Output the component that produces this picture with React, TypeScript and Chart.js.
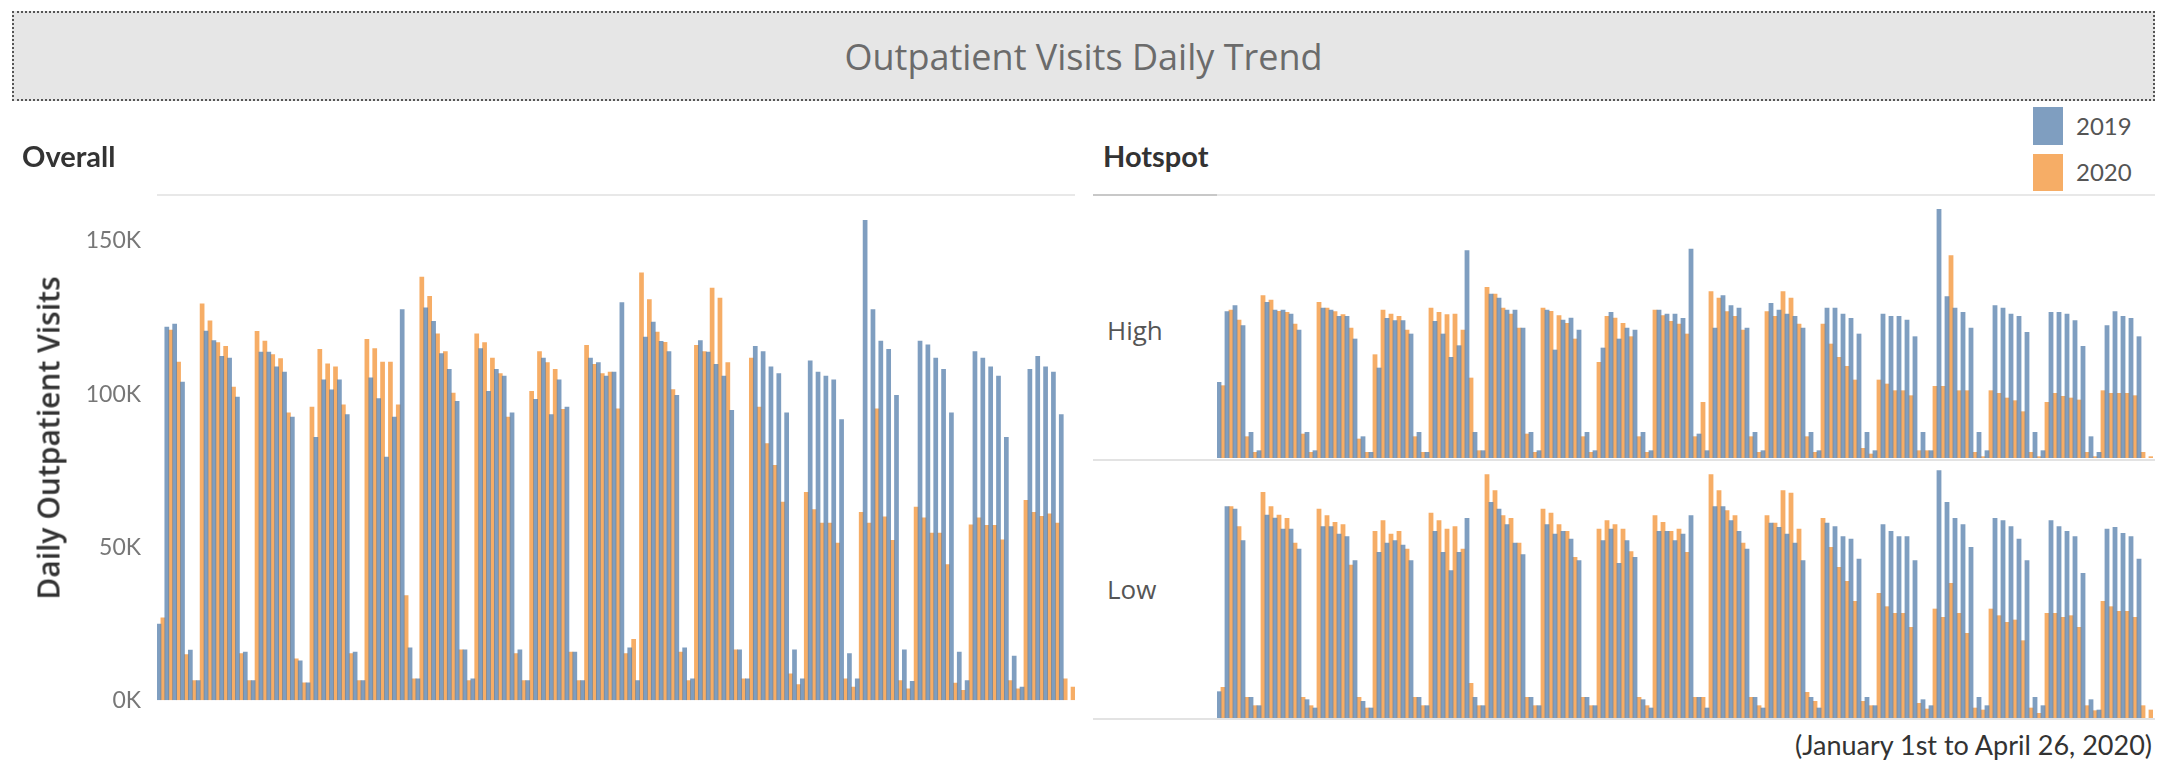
import React, { useEffect, useRef } from "react";
import { Chart, registerables } from "chart.js";
Chart.register(...registerables);

// 117 days: Jan 1 .. Apr 26, 2020
const dayLabels: string[] = Array.from({ length: 117 }, (_, i) => {
  const d = new Date(2020, 0, 1 + i);
  return d.toLocaleDateString("en-US", { month: "short", day: "numeric" });
});

// Overall daily outpatient visits (thousands)
const overall2019: (number | null)[] = [
  25, 122, 123, 104, 16.5, 6.5, 120.7, 117.6, 112.4, 111.9, 99.1, 15.8, 6.5, 113.8, 113.8, 109, 107.3, 92.6, 13, 5.8,
  86, 104.8, 101.5, 104.8, 93.4, 15.8, 6.5, 105.4, 98.6, 79.5, 92.6, 127.7, 17.2, 7.1, 128.3, 123.9, 113.3, 108.2, 97.7, 16.6,
  7.1, 115, 101, 108.2, 106, 94, 16.6, 6.5, 98.4, 111.9, 93.4, 104.8, 95.9, 15.8, 6.5, 111.9, 110.4, 106, 107.3, 130,
  17.2, 6.5, 118.7, 123.6, 117.3, 114, 99.7, 17.2, 7.1, 117.6, 113.8, 109.8, 106, 94.8, 16.6, 7.1, 115.7, 114, 109, 106.8,
  94, 16.6, 7.1, 111, 107.3, 106, 104.8, 91.8, 15.3, 7.1, 156.9, 127.7, 117.4, 114.7, 99.7, 16.6, 6.3, 117.4, 116.2, 111.9,
  108.2, 94, 15.8, 6.5, 114, 111.9, 109, 106, 86, 14.5, 4.4, 108.2, 112.4, 109, 107.3, 93.4, null,
];
const overall2020: (number | null)[] = [
  27, 121, 110.6, 15, 6.5, 129.6, 124, 116.9, 115.7, 102.4, 15.3, 6.5, 120.6, 117.4, 113, 111.7, 94, 13.6, 5.8, 95.9,
  114.7, 110, 109, 96.6, 15.3, 6.5, 118, 115, 110.6, 110.6, 96.6, 34.3, 7.1, 138.3, 132, 119.8, 114, 100.4, 16.6, 6.5,
  119.8, 116.9, 111.9, 106.8, 92.6, 15.3, 6.5, 101, 114, 110.4, 108.2, 95.1, 15.8, 6.5, 116, 109.8, 106.8, 107.3, 95.3, 15.3,
  20, 139.7, 131, 120.4, 117, 101.6, 15.8, 6.5, 116, 114, 134.7, 131.5, 110.4, 16.6, 7.1, 111.9, 95.9, 83.9, 76.8, 64.8,
  8.7, 5.2, 68, 62.4, 58, 58, 51.4, 7.1, 4.4, 61.5, 58, 95.3, 60, 52.3, 6.5, 3.8, 63.2, 59.7, 54.7, 54.7,
  44.4, 5.7, 3.3, 57.4, 59.7, 57.2, 57.2, 52.5, 6.5, 3.8, 65.4, 61.5, 60.2, 61, 58, 7.1, 4.4,
];

// Hotspot: High (thousands)
const high2019: (number | null)[] = [
  22.8, 44, 45.8, 39.8, 7.8, 2.3, 46.8, 44.5, 44.5, 43.3, 38.5, 7.8, 2.3, 45.1, 44.5, 42.6, 42.6, 35.8, 6.5, 1.8,
  27.1, 42, 41.3, 41.3, 37.3, 7.8, 1.8, 41.1, 37.3, 30.3, 33.8, 62.3, 7.8, 2.3, 49.3, 48.1, 44.5, 44.5, 39.1, 7.8,
  2.3, 44.5, 32.5, 41.5, 42.1, 38.5, 7.8, 2.3, 33.1, 43.8, 35.8, 39.1, 38.5, 7.8, 2.3, 44.5, 43.3, 43.3, 42, 62.8,
  7.3, 2.3, 39.1, 48.8, 45.8, 45.1, 39.1, 7.8, 2.3, 46.5, 44.5, 43.3, 42.6, 39.1, 7.8, 2.3, 45.1, 45.1, 43.3, 42,
  37.3, 7.8, 2.3, 43.3, 42.6, 42.6, 41.5, 36.5, 7.8, 2.3, 74.7, 48.5, 45.1, 43.8, 39.1, 7.8, 2.3, 45.8, 45.1, 43.3,
  42.6, 37.8, 7.8, 2.3, 43.8, 43.8, 43.3, 41.3, 33.6, 6.5, 1.8, 39.8, 44, 42.6, 42, 36.5, null,
];
const high2020: (number | null)[] = [
  21.8, 44.5, 41.5, 6.5, 1.8, 48.8, 47.5, 44.1, 43.8, 40.3, 7.3, 1.8, 46.8, 45.1, 44, 43.1, 39.1, 5.8, 1.8, 31.1,
  44.5, 43.3, 42.6, 38.5, 6.5, 1.8, 45.1, 43.8, 43.1, 43.3, 38.5, 24.1, 2.3, 51.3, 49.3, 45.1, 43.3, 39.1, 7.3, 1.8,
  45.1, 44.1, 42.8, 40.5, 35.8, 6.5, 1.8, 28.8, 42.6, 42.1, 40.5, 36.5, 6.5, 1.8, 44.5, 42.8, 41.1, 40.3, 37.3, 6.5,
  16.8, 50, 48.1, 44, 42.6, 38.5, 6.5, 1.8, 44, 42.6, 50, 48.1, 40.3, 6.5, 1.8, 40.3, 34.3, 30.3, 27.6, 23.5,
  3, 1.3, 23.5, 22.3, 20.3, 20.3, 18.8, 2.3, 2.3, 21.6, 21.6, 60.8, 20.3, 20.3, 1.8, 0.5, 20.3, 19.5, 18.1, 17.3,
  14, 1.8, 0.5, 16.8, 19.5, 18.6, 18.1, 17.5, 1.8, 0.5, 20.3, 19.5, 19.5, 19.5, 18.8, 1.8, 0.5,
];

// Hotspot: Low (thousands)
const low2019: (number | null)[] = [
  8, 63.5, 62.8, 53.3, 6.3, 3.8, 61, 60.1, 56.8, 56.8, 50.8, 5.6, 3.1, 57.5, 57.5, 55.3, 54.5, 47.3, 5.1, 3.1,
  49.8, 52.6, 53.3, 52, 47.3, 6.3, 3.8, 56.1, 49.8, 44.3, 49.8, 60, 6.3, 3.8, 64.8, 62.8, 58.1, 52.6, 49.1, 6.3,
  3.8, 58.1, 55.3, 56.1, 53.8, 47.3, 6.3, 3.8, 53.3, 56.8, 46.5, 53.3, 48.3, 5.6, 3.1, 56.1, 56.1, 53.3, 55.3, 60.8,
  6.3, 3.1, 63.5, 63.5, 59.3, 56.1, 50.8, 6.3, 3.1, 58.6, 57.3, 55.3, 52.6, 47.3, 6.3, 3.1, 58.6, 57.5, 54.5, 53.8,
  47.8, 6.3, 3.8, 58.1, 56.1, 54.5, 54.5, 47.3, 5.6, 3.8, 74.3, 64.8, 60, 58.1, 51.3, 6.3, 3.8, 60, 59.3, 57.5,
  53.8, 47.3, 6.3, 3.8, 59.3, 57.5, 56.1, 54.5, 43.5, 5.6, 2.5, 56.8, 57.3, 55.5, 54.5, 47.8, null,
];
const low2020: (number | null)[] = [
  9.3, 63.5, 57.5, 6.3, 3.8, 67.8, 63.5, 61, 60, 52.6, 6.3, 3.8, 62.8, 60.8, 58.8, 58.1, 46, 6.3, 3.1, 56.1,
  59.3, 55.3, 56.1, 50.8, 6.3, 3.8, 61.6, 59.3, 56.8, 57.5, 50.8, 10.5, 3.8, 73.1, 68.3, 60.8, 60, 52.6, 6.3, 3.8,
  62.8, 61.6, 58.1, 56.1, 48.3, 6.3, 3.8, 56.8, 59.3, 58.1, 56.8, 50, 6.3, 3.8, 60.8, 58.8, 56.1, 56.8, 49.8, 6.3,
  6.3, 73.1, 68.3, 62.3, 60.8, 52.6, 6.3, 3.8, 60.8, 58.6, 68.3, 67.6, 56.8, 7.8, 5.1, 60, 51.3, 45.3, 41.1, 35.1,
  5.1, 3.8, 37.5, 33.5, 31.5, 31.5, 27.3, 4.5, 2.8, 32.8, 30.3, 40.5, 31.5, 25.5, 3.1, 2.5, 32.8, 30.8, 28.8, 29.5,
  23.3, 3.1, 1.5, 31.5, 31.5, 30.3, 30.8, 27.3, 3.8, 2.3, 35.1, 33.5, 32.1, 32.1, 30.3, 3.8, 2.5,
];

const overallTicks = [0, 50, 100, 150];
const seriesNames = ["2019", "2020"];

const BLUE = "rgba(78,121,167,0.72)";
const ORANGE = "rgba(242,142,43,0.72)";
const FONT = "Lato, 'Open Sans', sans-serif";
const WIDE = "'Open Sans', Lato, sans-serif";

type PanelProps = {
  s2019: (number | null)[];
  s2020: (number | null)[];
  yMax: number;
  left: number;
  top: number;
  width: number;
  height: number;
  withAxis?: boolean;
  areaTop?: number;
  areaBottom?: number;
};

function BarPanel({ s2019, s2020, yMax, left, top, width, height, withAxis, areaTop = 0, areaBottom = 0 }: PanelProps) {
  const ref = useRef<HTMLCanvasElement>(null);
  useEffect(() => {
    const yScale: any = withAxis
      ? {
          display: true,
          min: 0,
          max: yMax,
          grid: { display: false, drawTicks: false },
          border: { display: false },
          afterFit: (s: any) => {
            s.width = 157;
          },
          afterBuildTicks: (s: any) => {
            s.ticks = overallTicks.map((v) => ({ value: v }));
          },
          ticks: {
            callback: (v: any) => `${v}K`,
            color: "#777",
            padding: 16,
            font: { size: 23, family: FONT },
          },
        }
      : { display: false, min: 0, max: yMax };
    const pad = { top: 0, bottom: 0, right: withAxis ? 10 : 0, left: 0 };
    const chart = new Chart(ref.current!, {
      type: "bar",
      data: {
        labels: dayLabels,
        datasets: [
          { label: seriesNames[0], data: s2019, backgroundColor: BLUE, borderWidth: 0, categoryPercentage: 1, barPercentage: 1.2 },
          { label: seriesNames[1], data: s2020, backgroundColor: ORANGE, borderWidth: 0, categoryPercentage: 1, barPercentage: 1.2 },
        ],
      },
      options: {
        animation: false,
        responsive: false,
        maintainAspectRatio: false,
        layout: { padding: { ...pad } },
        plugins: { legend: { display: false }, tooltip: { enabled: false } },
        scales: {
          x: { display: false, grid: { display: false } },
          y: yScale,
        },
      },
    });
    if (withAxis) {
      // nudge the layout padding until the value scale spans the pane
      for (let k = 0; k < 8; k++) {
        const ys: any = chart.scales.y;
        const t = ys.getPixelForValue(yMax);
        const b = ys.getPixelForValue(0);
        const dt = areaTop - t;
        const db = b - areaBottom;
        if (Math.abs(dt) < 0.5 && Math.abs(db) < 0.5) break;
        pad.top = Math.max(0, pad.top + dt);
        pad.bottom = Math.max(0, pad.bottom + db);
        (chart.options as any).layout = { padding: { ...pad } };
        chart.update();
      }
    }
    return () => chart.destroy();
  }, []);
  return (
    <canvas
      ref={ref}
      width={width}
      height={height}
      style={{ position: "absolute", left, top, width, height }}
    />
  );
}

export default function App() {
  const abs = (s: React.CSSProperties): React.CSSProperties => ({ position: "absolute", ...s });
  return (
    <div style={{ position: "absolute", left: 0, top: 0, width: 2170, height: 761, background: "#fff", fontFamily: FONT, overflow: "hidden" }}>
      {/* Title box */}
      <div
        style={abs({
          left: 12, top: 11, width: 2139, height: 86,
          background: "#e6e6e6", border: "2px dotted #555",
          display: "flex", alignItems: "center", justifyContent: "center",
          color: "#6b6b6b", fontSize: 36, fontFamily: WIDE,
        })}
      >
        Outpatient Visits Daily Trend
      </div>

      {/* Overall chart: value scale spans 200..700 px on the page */}
      <BarPanel
        s2019={overall2019}
        s2020={overall2020}
        yMax={163.4}
        left={0}
        top={150}
        width={1085}
        height={580}
        withAxis
        areaTop={50}
        areaBottom={550}
      />

      {/* Headers */}
      <div style={abs({ left: 22, top: 137, fontSize: 29, fontWeight: 700, color: "#333", lineHeight: "38px" })}>Overall</div>
      <div style={abs({ left: 1103, top: 137, fontSize: 29, fontWeight: 700, color: "#333", lineHeight: "38px" })}>Hotspot</div>
      <div style={abs({ left: 157, top: 194, width: 918, height: 2, background: "#e8e8e8" })} />
      <div style={abs({ left: 1093, top: 194, width: 1062, height: 2, background: "#e8e8e8" })} />
      <div style={abs({ left: 1093, top: 194, width: 124, height: 2, background: "#c8c8c8" })} />

      {/* Legend */}
      <div style={abs({ left: 2033, top: 107, width: 30, height: 38, background: BLUE })} />
      <div style={abs({ left: 2076, top: 112, fontSize: 24, color: "#555", lineHeight: "28px" })}>{seriesNames[0]}</div>
      <div style={abs({ left: 2033, top: 154, width: 30, height: 37, background: ORANGE })} />
      <div style={abs({ left: 2076, top: 158, fontSize: 24, color: "#555", lineHeight: "28px" })}>{seriesNames[1]}</div>

      {/* Y axis title */}
      <div
        style={abs({
          left: 48, top: 438, transform: "translate(-50%,-50%) rotate(-90deg)",
          whiteSpace: "nowrap", fontSize: 30, fontWeight: 600, color: "#333", fontFamily: WIDE,
        })}
      >
        Daily Outpatient Visits
      </div>

      {/* Hotspot rows */}
      <div style={abs({ left: 1107, top: 314, fontSize: 26, color: "#555", lineHeight: "32px", fontFamily: WIDE })}>High</div>
      <div style={abs({ left: 1107, top: 573, fontSize: 26, color: "#555", lineHeight: "32px", fontFamily: WIDE })}>Low</div>
      <BarPanel s2019={high2019} s2020={high2020} yMax={77.4} left={1217} top={200} width={936} height={258} />
      <div style={abs({ left: 1093, top: 459, width: 1062, height: 2, background: "#e3e3e3" })} />
      <BarPanel s2019={low2019} s2020={low2020} yMax={76.8} left={1217} top={462} width={936} height={256} />
      <div style={abs({ left: 1093, top: 718, width: 1062, height: 2, background: "#e3e3e3" })} />

      {/* Footnote */}
      <div style={abs({ right: 18, top: 729, fontSize: 27, color: "#333", lineHeight: "32px" })}>
        (January 1st to April 26, 2020)
      </div>
    </div>
  );
}
